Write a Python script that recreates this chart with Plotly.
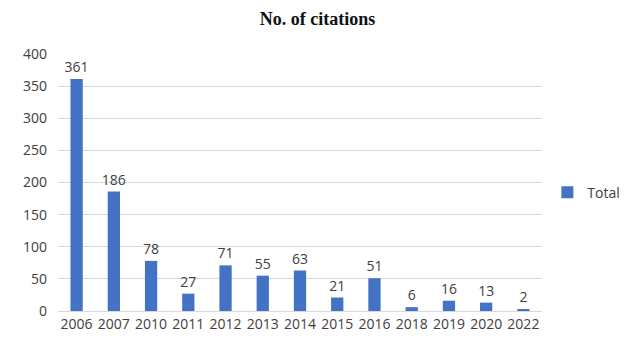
import plotly.graph_objects as go

years = ["2006", "2007", "2010", "2011", "2012", "2013", "2014",
         "2015", "2016", "2018", "2019", "2020", "2022"]
citations = [361, 186, 78, 27, 71, 55, 63, 21, 51, 6, 16, 13, 2]
y_ticks = [0, 50, 100, 150, 200, 250, 300, 350, 400]

fig = go.Figure()
fig.add_trace(go.Bar(
    x=years,
    y=citations,
    name="Total",
    marker=dict(color="#4472C4", line=dict(width=0)),
    text=[str(v) for v in citations],
    textposition="outside",
    constraintext="none",
    textfont=dict(family="Open Sans, sans-serif", size=14, color="#404040"),
    cliponaxis=False,
))

fig.update_layout(
    width=635,
    height=341,
    margin=dict(l=58, r=93, t=54, b=30, autoexpand=False),
    paper_bgcolor="white",
    plot_bgcolor="white",
    bargap=0.67,
    title=dict(
        text="<b>No. of citations</b>",
        x=0.5,
        xanchor="center",
        y=0.945,
        yanchor="middle",
        font=dict(family="Liberation Serif, serif", size=18, color="#111111"),
    ),
    showlegend=True,
    legend=dict(
        xref="container",
        yref="container",
        x=0.862,
        y=0.435,
        xanchor="left",
        yanchor="middle",
        font=dict(family="Open Sans, sans-serif", size=14, color="#404040"),
        itemwidth=30,
    ),
)

fig.update_xaxes(
    type="category",
    showgrid=False,
    showline=True,
    linecolor="#d9d9d9",
    linewidth=1,
    ticks="",
    tickfont=dict(family="Open Sans, sans-serif", size=14, color="#404040"),
)
fig.update_yaxes(
    range=[0, 400],
    tickvals=y_ticks,
    showgrid=True,
    gridcolor="#d9d9d9",
    gridwidth=1,
    zeroline=False,
    ticks="",
    ticklabelstandoff=10,
    tickfont=dict(family="Open Sans, sans-serif", size=14, color="#404040"),
)

fig.write_html("out.html")
